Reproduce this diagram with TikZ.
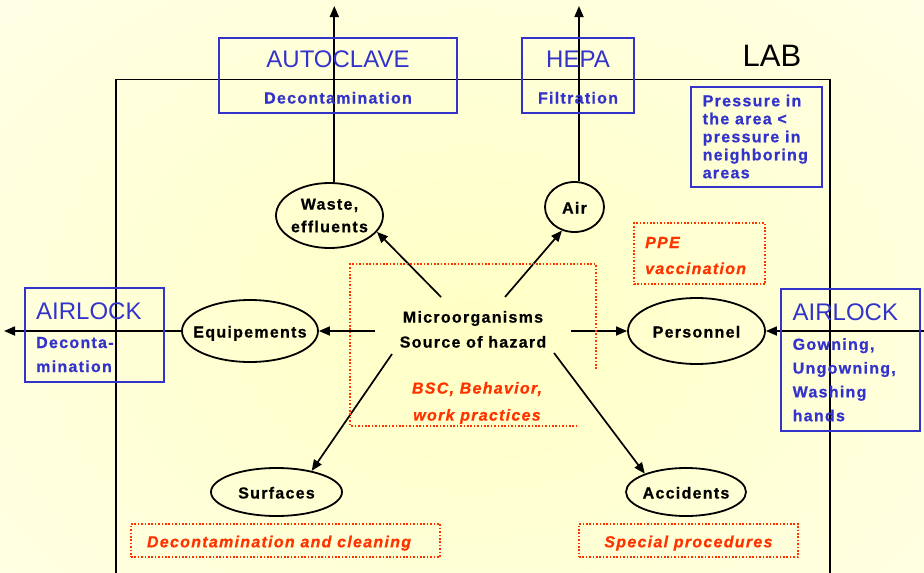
\documentclass[tikz,border=0pt]{standalone}
\usepackage{fontspec}
\setmainfont{Liberation Sans}
\newfontfamily\trk[LetterSpace=8,BoldFeatures={FakeBold=0.7},BoldItalicFeatures={FakeBold=0.7}]{Liberation Sans}
\usetikzlibrary{shapes.geometric,arrows.meta}
\definecolor{labblue}{RGB}{51,51,204}
\definecolor{labred}{RGB}{255,51,0}
\definecolor{glowin}{RGB}{255,255,196}
\definecolor{glowout}{RGB}{255,255,249}
\pgfdeclareradialshading{bgglow}{\pgfpoint{0bp}{0bp}}{color(0bp)=(glowin); color(50bp)=(glowout)}
\begin{document}
\begin{tikzpicture}[x=1pt,y=-1pt,
  ell/.style={ellipse, draw=black, line width=1.8pt, inner xsep=-15pt, inner ysep=-8pt,
    font=\trk\bfseries\fontsize{16}{22.6}\selectfont, align=center},
  oneline/.style={text height=13pt, text depth=0pt},
  arr/.style={line width=1.7pt, -{Triangle[length=11pt,width=9pt]}},
  bbox/.style={draw=labblue, line width=2pt, inner sep=0pt},
  rbox/.style={draw=labred, line width=1.8pt, dash pattern=on 1.6pt off 1.8pt, inner sep=0pt},
  big/.style={font=\fontsize{24}{28}\selectfont, inner sep=0pt},
  bluetxt/.style={text=labblue, inner sep=0pt, align=left, font=\trk\bfseries\fontsize{16}{#1}\selectfont},
  redtxt/.style={text=labred, inner sep=0pt, font=\trk\bfseries\itshape\fontsize{16}{#1}\selectfont},
  frame/.style={draw=black, line width=1.7pt}]
\useasboundingbox (0,0) rectangle (924,573);
% soft yellow glow behind everything
\begin{scope}
  \clip (0,0) rectangle (924,573);
  \shade[shading=bgglow] (-30,-40) rectangle (970,680);
\end{scope}

% lab walls
\draw[frame] (116,575) -- (116,79.5) -- (830,79.5) -- (830,575);
\node[font=\fontsize{31}{36}\selectfont, inner sep=0pt, anchor=base] (lab) at (772,66) {LAB};

% hazard source
\node[font=\trk\bfseries\fontsize{16}{25}\selectfont, align=center, inner sep=0pt, anchor=north] (micro) at (473,310.8) {Microorganisms\\Source of hazard};
\coordinate (mW) at (441,297);
\coordinate (mA) at (505,297);
\coordinate (mE) at (375,331);
\coordinate (mP) at (571,331);
\coordinate (mS) at (392,354);
\coordinate (mC) at (554,353);

% transmission routes
\node[ell, minimum width=107pt, minimum height=65pt] (waste) at (329.5,215.5) {Waste,\\effluents};
\node[ell, oneline, minimum width=59pt, minimum height=50pt] (air) at (574.5,207) {Air};
\node[ell, oneline, minimum width=136pt, minimum height=62pt] (equip) at (250,331) {Equipements};
\node[ell, oneline, minimum width=137pt, minimum height=66pt] (pers) at (696.5,331) {Personnel};
\node[ell, oneline, minimum width=131pt, minimum height=48pt] (surf) at (276.5,492) {Surfaces};
\node[ell, oneline, minimum width=120pt, minimum height=48pt] (acc) at (686,492) {Accidents};

\draw[arr] (mW) -- (waste.-19);
\draw[arr] (mA) -- (air.242);
\draw[arr] (mE) -- (equip.east);
\draw[arr] (mP) -- (pers.west);
\draw[arr] (mS) -- (surf.31);
\draw[arr] (mC) -- (acc.156);

% exits and entries of the lab
\coordinate (autoOut) at (334.3,6);
\coordinate (hepaOut) at (579,6);
\coordinate (leftOut) at (4,331);
\coordinate (rightIn) at (924,331);
\draw[arr] (waste.north -| autoOut) -- (autoOut);
\draw[arr] (air.north -| hepaOut) -- (hepaOut);
\draw[arr] (equip.west) -- (leftOut);
\draw[arr] (rightIn) -- (pers.east);

% containment barriers
\node[bbox, minimum width=237.7pt, minimum height=75pt] (autoBox) at (337.85,75.8) {};
\node[big, text=labblue, anchor=base] (autoT) at (338,67) {AUTOCLAVE};
\node[bluetxt=20, anchor=base] (autoS) at (338,103.5) {Decontamination};

\node[bbox, minimum width=112.6pt, minimum height=75pt] (hepaBox) at (578,75.8) {};
\node[big, text=labblue, anchor=base] (hepaT) at (578,67) {HEPA};
\node[bluetxt=20, anchor=base] (hepaS) at (578,103.5) {Filtration};

\node[bbox, minimum width=131.3pt, minimum height=100.6pt] (pressBox) at (756.65,137) {};
\node[bluetxt=18, anchor=north west] (pressT) at (702.5,94.5) {Pressure in\\the area <\\pressure in\\neighboring\\areas};

\node[bbox, minimum width=139.3pt, minimum height=93.4pt] (lockL) at (94.65,335) {};
\node[big, text=labblue, anchor=base west] (lockLT) at (36,319) {AIRLOCK};
\node[bluetxt=24, anchor=north west] (lockLS) at (36,336.8) {Deconta-\\mination};

\node[bbox, minimum width=139.3pt, minimum height=142pt] (lockR) at (850.35,360) {};
\node[big, text=labblue, anchor=base west] (lockRT) at (792.5,320) {AIRLOCK};
\node[bluetxt=23.8, anchor=north west] (lockRS) at (792.5,338) {Gowning,\\Ungowning,\\Washing\\hands};

% protective measures
\draw[rbox] (577.3,425.7) -- (350,425.7) -- (350,264.3) -- (596,264.3) -- (596,369);
\node[redtxt=27, align=center, anchor=north] (bsc) at (477,381.8) {BSC, Behavior,\\work practices};

\node[rbox, minimum width=131.3pt, minimum height=61pt] (ppeBox) at (699.65,253.8) {};
\node[redtxt=26, align=left, anchor=north west] (ppe) at (645,236.8) {PPE\\vaccination};

\node[rbox, minimum width=309pt, minimum height=33pt] (cleanBox) at (285.5,540.5) {};
\node[redtxt=20, anchor=base] (clean) at (279,547.3) {Decontamination and cleaning};

\node[rbox, minimum width=219pt, minimum height=33pt] (specBox) at (688.5,540.5) {};
\node[redtxt=20, anchor=base] (spec) at (688.4,547.3) {Special procedures};
\end{tikzpicture}
\end{document}
